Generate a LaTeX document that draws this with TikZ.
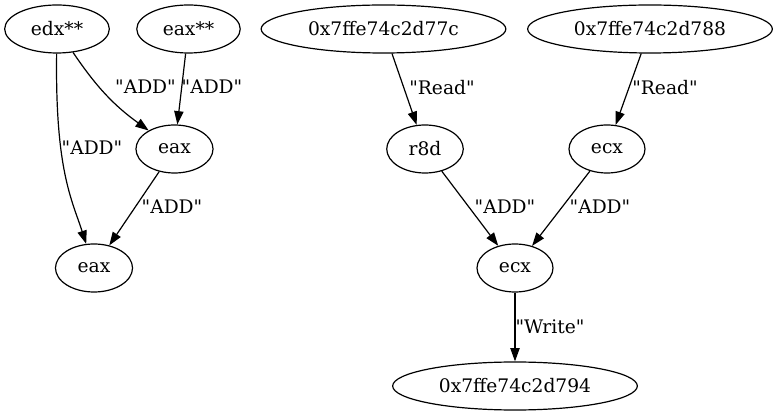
\documentclass[tikz,border=0pt]{standalone}
\usepackage{fontspec}
\setmainfont{DejaVu Serif}[Ligatures=TeXOff]
\usepackage{tikz}
\usetikzlibrary{positioning,arrows.meta,shapes.geometric}

\begin{document}
\begin{tikzpicture}[x=0.75pt,y=-0.75pt,
    var/.style={draw,ellipse,black,line width=0.9pt,inner sep=0pt,minimum height=36pt,font=\fontsize{14}{17}\selectfont},
    elab/.style={inner sep=0pt,font=\fontsize{14}{17}\selectfont},
    flow/.style={draw,line width=0.9pt,-{Triangle[length=10pt,width=7pt]}}]
\useasboundingbox (0,0) rectangle (778,416);
% top row
\node[var,minimum width=78.5pt] (edx) at (57,29) {edx**};
\node[var,minimum width=77.6pt] (eaxs) at (188.5,29) {eax**};
\node[var,minimum width=183.5pt] (hexa) at (383.5,29) {0x7ffe74c2d77c};
\node[var,minimum width=183.5pt] (hexb) at (650,29) {0x7ffe74c2d788};
% middle rows
\node[var,minimum width=57.8pt] (eaxm) at (174.5,149) {eax};
\node[var,minimum width=57.4pt] (r8d) at (425,149) {r8d};
\node[var,minimum width=57pt] (ecxa) at (607,149) {ecx};
\node[var,minimum width=57.8pt] (eaxb) at (94,268) {eax};
\node[var,minimum width=57pt] (ecxb) at (515,268) {ecx};
% bottom
\node[var,minimum width=183.5pt] (hexc) at (515,386) {0x7ffe74c2d794};

\draw[flow] (edx) .. controls (55,170) and (72,200) .. (eaxb);
\draw[flow] (edx) to[bend right=10] (eaxm);
\draw[flow] (eaxs) -- (eaxm);
\draw[flow] (eaxm) -- (eaxb);
\draw[flow] (hexa) -- (r8d);
\draw[flow] (hexb) -- (ecxa);
\draw[flow] (r8d) -- (ecxb);
\draw[flow] (ecxa) -- (ecxb);
\draw[flow] (ecxb) -- (hexc);

% edge labels
\node[elab] (l1) at (92,148) {"ADD"};
\node[elab] (l2) at (145.5,87) {"ADD"};
\node[elab] (l3) at (212,87) {"ADD"};
\node[elab] (l4) at (172,207) {"ADD"};
\node[elab] (l5) at (442,88) {"Read"};
\node[elab] (l6) at (665,88) {"Read"};
\node[elab] (l7) at (505,207) {"ADD"};
\node[elab] (l8) at (600,207) {"ADD"};
\node[elab] (l9) at (550,327) {"Write"};
\end{tikzpicture}
\end{document}
